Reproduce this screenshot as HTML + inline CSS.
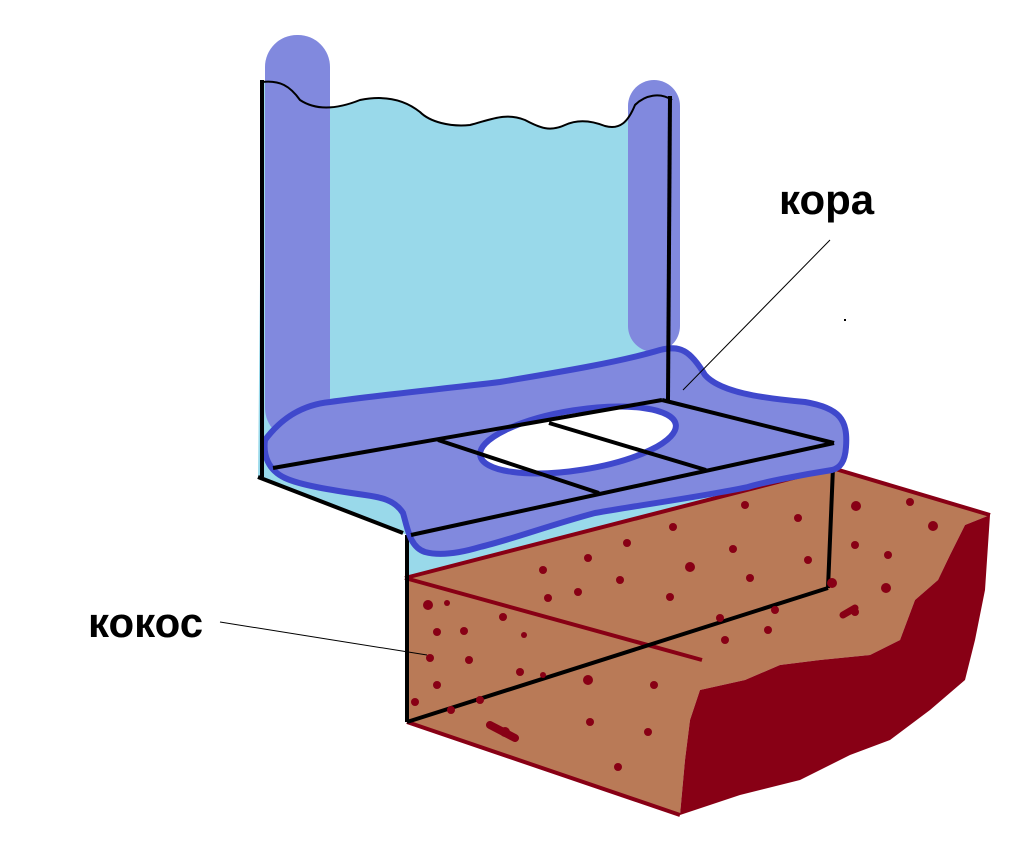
<!DOCTYPE html>
<html><head><meta charset="utf-8"><style>
html,body{margin:0;padding:0;background:#fff;}
svg{display:block;}
text{font-family:"Liberation Sans",sans-serif;font-weight:bold;font-size:42px;fill:#000;}
</style></head><body>
<svg width="1010" height="842" viewBox="0 0 1010 842" xmlns="http://www.w3.org/2000/svg">
<path d="M262,82 C280,80 290,86 300,100 C315,110 335,110 360,100 C385,95 405,100 420,112 C430,122 450,127 470,125 C490,120 505,112 525,120 C540,128 550,132 565,125 C580,118 595,122 605,126 C620,130 628,122 635,105 C645,95 660,92 672,100 L672,402 L834,445 L834,470 L407,578 L407,535 L258,477 Z" fill="#99d9ea"/>
<rect x="265" y="35" width="65" height="405" rx="32" fill="#8189de"/>
<rect x="628" y="80" width="52" height="272" rx="26" fill="#8189de"/>
<path d="M262,82 C280,80 290,86 300,100 C315,110 335,110 360,100 C385,95 405,100 420,112 C430,122 450,127 470,125 C490,120 505,112 525,120 C540,128 550,132 565,125 C580,118 595,122 605,126 C620,130 628,122 635,105 C645,95 660,92 672,100" fill="none" stroke="#000" stroke-width="2"/>
<polygon points="405,578 832,468 990,515 965,525 950,555 938,580 915,600 900,640 870,655 820,660 780,665 745,680 700,690 690,720 685,760 680,815 407,722" fill="#b97a57"/>
<path d="M990,515 L965,525 L950,555 L938,580 L915,600 L900,640 L870,655 L820,660 L780,665 L745,680 L700,690 L690,720 L685,760 L680,815 L740,795 L800,780 L850,755 L890,740 L930,710 L965,680 L975,640 L985,590 Z" fill="#880015"/>
<g stroke="#880015" stroke-width="4" fill="none">
<line x1="405" y1="578" x2="832" y2="468"/>
<line x1="832" y1="468" x2="990" y2="515"/>
<line x1="405" y1="578" x2="702" y2="660"/>
<line x1="407" y1="722" x2="680" y2="815"/>
</g>
<g stroke="#000" stroke-width="4" fill="none">
<line x1="407" y1="535" x2="407" y2="722"/>
<line x1="407" y1="722" x2="828" y2="588"/>
<line x1="834" y1="443" x2="828" y2="588"/>
</g>
<g fill="#880015">
<circle cx="543" cy="570" r="4"/><circle cx="588" cy="558" r="4"/><circle cx="627" cy="543" r="4"/><circle cx="673" cy="527" r="4"/><circle cx="745" cy="505" r="4"/><circle cx="798" cy="518" r="4"/><circle cx="733" cy="549" r="4"/><circle cx="690" cy="567" r="5"/><circle cx="620" cy="580" r="4"/><circle cx="548" cy="598" r="4"/><circle cx="578" cy="592" r="4"/><circle cx="670" cy="597" r="4"/><circle cx="720" cy="618" r="4"/><circle cx="808" cy="560" r="4"/><circle cx="750" cy="578" r="4"/><circle cx="856" cy="506" r="5"/><circle cx="910" cy="502" r="4"/><circle cx="933" cy="526" r="5"/><circle cx="855" cy="545" r="4"/><circle cx="888" cy="555" r="4"/><circle cx="886" cy="588" r="5"/><circle cx="855" cy="612" r="4"/><circle cx="775" cy="610" r="4"/><circle cx="768" cy="630" r="4"/><circle cx="725" cy="640" r="4"/><circle cx="428" cy="605" r="5"/><circle cx="447" cy="603" r="3"/><circle cx="503" cy="617" r="4"/><circle cx="437" cy="632" r="4"/><circle cx="464" cy="631" r="4"/><circle cx="524" cy="635" r="3"/><circle cx="430" cy="658" r="4"/><circle cx="469" cy="660" r="4"/><circle cx="520" cy="672" r="4"/><circle cx="543" cy="675" r="3"/><circle cx="437" cy="685" r="4"/><circle cx="415" cy="702" r="4"/><circle cx="451" cy="710" r="4"/><circle cx="480" cy="700" r="4"/><circle cx="588" cy="680" r="5"/><circle cx="654" cy="685" r="4"/><circle cx="505" cy="732" r="5"/><circle cx="590" cy="722" r="4"/><circle cx="648" cy="732" r="4"/><circle cx="618" cy="767" r="4"/><circle cx="832" cy="583" r="5"/></g>
<line x1="490" y1="725" x2="515" y2="738" stroke="#880015" stroke-width="8" stroke-linecap="round"/>
<line x1="843" y1="615" x2="855" y2="608" stroke="#880015" stroke-width="7" stroke-linecap="round"/>
<path d="M265,440 C280,420 300,405 330,402 C380,395 450,388 500,382 C560,372 620,362 660,350 C680,345 690,350 705,375 C720,392 760,398 805,402 C840,408 848,420 846,447 C845,462 840,468 832,470 C800,475 760,483 748,487 C700,497 640,505 595,513 C550,525 510,540 480,547 C460,553 440,556 425,552 C410,547 408,530 403,513 C395,500 380,497 365,495 C330,490 300,485 285,478 C268,470 263,455 265,440 Z" fill="#8189de" stroke="#3f48cc" stroke-width="6"/>
<ellipse cx="578" cy="440" rx="99" ry="30" transform="rotate(-9 578 440)" fill="#fff" stroke="#3f48cc" stroke-width="6"/>
<g stroke="#000" stroke-width="4" fill="none">
<line x1="262" y1="80" x2="262" y2="477"/>
<line x1="258" y1="477" x2="403" y2="533"/>
<line x1="411" y1="535" x2="834" y2="443"/>
<line x1="273" y1="468" x2="662" y2="400"/>
<line x1="662" y1="400" x2="834" y2="443"/>
<line x1="438" y1="440" x2="599" y2="493"/>
<line x1="549" y1="423" x2="706" y2="470"/>
<line x1="670" y1="96" x2="668" y2="400"/>
</g>
<text x="779" y="214">кора</text>
<text x="88" y="637">кокос</text>
<line x1="830" y1="240" x2="683" y2="390" stroke="#000" stroke-width="1"/>
<line x1="220" y1="622" x2="427" y2="655" stroke="#000" stroke-width="1"/>
<rect x="844" y="319" width="2" height="2" fill="#000"/>
</svg>
</body></html>
